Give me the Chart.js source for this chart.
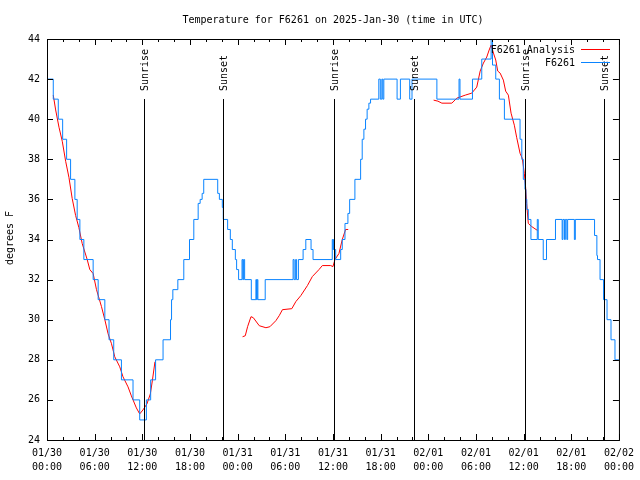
<!DOCTYPE html>
<html><head><meta charset="utf-8">
<script src="https://cdn.jsdelivr.net/npm/chart.js@4/dist/chart.umd.min.js"></script>
<style>html,body{margin:0;padding:0;background:#fff}#wrap{width:640px;height:480px;position:relative}</style>
</head><body><div id="wrap"><canvas id="c" width="640" height="480"></canvas></div>
<script>
const chartTitle = "Temperature for F6261 on 2025-Jan-30 (time in UTC)";
const yAxisTitle = "degrees F";
const tickDates = ["01/30","01/30","01/30","01/30","01/31","01/31","01/31","01/31","02/01","02/01","02/01","02/01","02/02"];
const tickTimes = ["00:00","06:00","12:00","18:00","00:00","06:00","12:00","18:00","00:00","06:00","12:00","18:00","00:00"];
const sunHours = [12.2, 22.12, 36.17, 46.2, 60.21, 70.16];
const sunLabels = ["Sunrise","Sunset","Sunrise","Sunset","Sunrise","Sunset"];
const sunLineTop = 41;
const seriesNames = ["F6261 Analysis", "F6261"];

// observed F6261 (step changes: hours since 01/30 00:00 UTC, temperature F)
const obsHours = [0,0.79,1.42,1.97,2.47,2.97,3.51,3.80,4.14,4.64,5.81,6.44,7.28,7.81,8.40,9.37,10.83,11.67,12.51,13.05,13.67,14.61,15.55,15.68,15.84,16.47,17.22,17.94,18.48,19.03,19.28,19.53,19.73,21.49,21.70,22.07,22.19,22.74,23.08,23.33,23.71,23.87,24.12,24.55,24.65,24.75,24.88,25.72,26.30,26.38,26.47,26.55,27.47,30.98,31.11,31.30,31.42,31.65,32.24,32.58,33.24,33.49,35.91,35.99,36.08,36.16,36.34,36.97,37.17,37.51,37.88,38.10,38.76,39.48,39.68,39.89,40.10,40.30,40.52,40.73,41.77,41.96,42.15,42.27,42.40,44.07,44.49,45.66,45.95,49.08,51.87,51.99,53.56,54.73,55.91,56.08,56.49,56.95,57.58,59.55,59.77,59.96,60.17,60.29,60.40,60.59,60.92,61.72,61.84,62.47,62.88,64.01,64.85,64.95,65.14,65.25,65.44,65.54,66.39,66.51,68.93,69.22,69.30,69.62,70.06,70.50,71.00,71.50,72];
const obsTemps = [42,41,40,39,38,37,36,35,34,33,32,31,30,29,28,27,26,25,26,27,28,29,30,31,31.5,32,33,34,35,35.8,36,36.3,37,36.3,36,35.6,35,34.5,34,33.5,33,32.5,32,33,32,33,32,31,32,31,32,31,32,33,32,33,32,33,33.5,34,33.5,33,34,33.5,34,33.5,33,33.5,34,34.8,35.3,36,37,38,39,39.5,40,40.5,40.8,41,42,41,42,41,42,41,42,41,42,41,42,41,42,43,44,42.7,42,41,40,39,38,37,36.5,36,35.5,35,34,35,34,33,34,35,34,35,34,35,34,35,34,35,34.2,33.2,33,32,31,30,29,28,28];

// analysis F6261 (null = gap)
const anaHours = [0.79,1.09,1.51,1.92,2.35,2.76,3.17,3.60,4.01,4.43,5.06,5.39,5.81,6.23,6.86,7.28,7.69,8.12,8.53,9.16,9.57,10.20,10.62,11.25,11.67,12.08,12.58,13.01,13.26,13.59,
  19,
  24.62,24.96,25.25,25.68,25.97,26.72,27.56,28.06,28.81,29.23,29.64,30.82,31.32,31.95,32.78,33.40,34.24,34.66,35.71,36.00,36.25,36.75,37.17,37.59,37.92,
  43,
  48.67,49.21,49.71,50.96,51.59,52.65,53.47,54.10,54.53,54.94,55.36,55.66,55.91,56.20,56.49,56.74,57.04,57.45,57.74,58.08,58.42,58.83,59.12,59.55,59.83,60.09,60.25,60.38,60.59,61.00,61.75];
const anaTemps = [41.2,40.46,39.6,38.9,37.9,37.1,36.05,35.2,34.6,33.8,33.0,32.5,32.3,31.5,30.65,30.0,29.3,28.8,28.15,27.65,27.15,26.65,26.2,25.6,25.3,25.5,25.8,26.3,26.95,27.9,
  null,
  29.15,29.2,29.65,30.15,30.1,29.7,29.6,29.65,29.95,30.2,30.5,30.55,30.9,31.2,31.7,32.15,32.5,32.7,32.7,32.65,33.0,33.3,34.0,34.5,34.5,
  null,
  40.95,40.9,40.8,40.8,41.05,41.2,41.3,41.6,42.4,42.8,43.1,43.45,43.7,43.3,42.95,42.4,42.3,41.95,41.4,41.2,40.3,39.7,39.1,38.3,38.05,37.3,36.6,35.8,34.8,34.65,34.45];

const RED = '#ff0000';
const BLUE = '#0a84ff';
const FONT = "'DejaVu Sans Mono', monospace";

const deco = {
  id: 'deco',
  afterDatasetsDraw(chart) {
    const {ctx, chartArea: a, scales: {x, y}} = chart;
    ctx.save();
    ctx.strokeStyle = '#000';
    ctx.lineWidth = 1;
    ctx.fillStyle = '#000';
    // sunrise / sunset lines
    sunHours.forEach((h, i) => {
      const px = Math.round(x.getPixelForValue(h)) + 0.5;
      const top = Math.round(y.getPixelForValue(sunLineTop));
      ctx.beginPath(); ctx.moveTo(px, top); ctx.lineTo(px, a.bottom); ctx.stroke();
      ctx.save();
      ctx.translate(px + 1, top - 8);
      ctx.rotate(-Math.PI / 2);
      ctx.font = "10px " + FONT;
      ctx.textAlign = 'left'; ctx.textBaseline = 'middle';
      ctx.fillText(sunLabels[i], 0, 0);
      ctx.restore();
    });
    // border
    ctx.strokeRect(a.left + 0.5, a.top + 0.5, a.right - a.left, a.bottom - a.top);
    // x ticks (major every 6h, minor every 2h), mirrored on top
    for (let h = x.min; h <= x.max + 1e-9; h += 2) {
      const px = Math.round(x.getPixelForValue(h)) + 0.5;
      const len = (Math.abs(h % 6) < 1e-9) ? 6 : 3;
      ctx.beginPath();
      ctx.moveTo(px, a.bottom); ctx.lineTo(px, a.bottom - len);
      ctx.moveTo(px, a.top); ctx.lineTo(px, a.top + len);
      ctx.stroke();
    }
    // y ticks, mirrored on right
    for (let v = y.min; v <= y.max + 1e-9; v += 2) {
      const py = Math.round(y.getPixelForValue(v)) + 0.5;
      ctx.beginPath();
      ctx.moveTo(a.left, py); ctx.lineTo(a.left + 6, py);
      ctx.moveTo(a.right, py); ctx.lineTo(a.right - 6, py);
      ctx.stroke();
    }
    // legend
    ctx.font = "10px " + FONT;
    ctx.textAlign = 'right'; ctx.textBaseline = 'middle';
    const lx = 575, lines = [[seriesNames[0], RED, 49.5], [seriesNames[1], BLUE, 62.5]];
    lines.forEach(([t, c, ly]) => {
      ctx.fillStyle = '#000';
      ctx.fillText(t, lx, ly + 0.5);
      ctx.strokeStyle = c;
      ctx.beginPath(); ctx.moveTo(581, ly); ctx.lineTo(610, ly); ctx.stroke();
    });
    ctx.restore();
  },
  afterDraw(chart) {
    const {ctx} = chart;
    ctx.save();
    ctx.fillStyle = '#000';
    ctx.font = "10px " + FONT;
    ctx.textAlign = 'center'; ctx.textBaseline = 'middle';
    ctx.fillText(chartTitle, 333, 20);
    ctx.translate(10, 238);
    ctx.rotate(-Math.PI / 2);
    ctx.fillText(yAxisTitle, 0, 0);
    ctx.restore();
  }
};

const obsData = obsHours.map((h, i) => ({x: h, y: obsTemps[i]}));
const anaData = anaHours.map((h, i) => ({x: h, y: anaTemps[i]}));

new Chart(document.getElementById('c'), {
  type: 'line',
  data: {
    datasets: [
      {label: seriesNames[1], data: obsData, borderColor: BLUE, borderWidth: 1, pointRadius: 0, stepped: true, order: 0, tension: 0},
      {label: seriesNames[0], data: anaData, borderColor: RED, borderWidth: 1, pointRadius: 0, spanGaps: false, order: 1, tension: 0}
    ]
  },
  options: {
    responsive: false,
    animation: false,
    devicePixelRatio: 1,
    layout: {padding: {top: 39, right: 19, left: 0, bottom: 0}},
    plugins: {legend: {display: false}, title: {display: false}, tooltip: {enabled: false}},
    scales: {
      x: {
        type: 'linear', min: 0, max: 72,
        grid: {display: false, drawTicks: false},
        border: {display: false},
        afterFit(s) { s.height = 40; },
        afterBuildTicks(s) { s.ticks = tickDates.map((d, i) => ({value: i * 6})); },
        ticks: {
          color: '#000', padding: 6, maxRotation: 0, autoSkip: false,
          font: {family: FONT, size: 10, lineHeight: 1.4},
          callback: (v) => { const i = Math.round(v / 6); return [tickDates[i], tickTimes[i]]; }
        }
      },
      y: {
        min: 24, max: 44,
        grid: {display: false, drawTicks: false},
        border: {display: false},
        afterFit(s) { s.width = 47; },
        ticks: {color: '#000', padding: 7, stepSize: 2, font: {family: FONT, size: 10}}
      }
    }
  },
  plugins: [deco]
});
</script>
</body></html>
